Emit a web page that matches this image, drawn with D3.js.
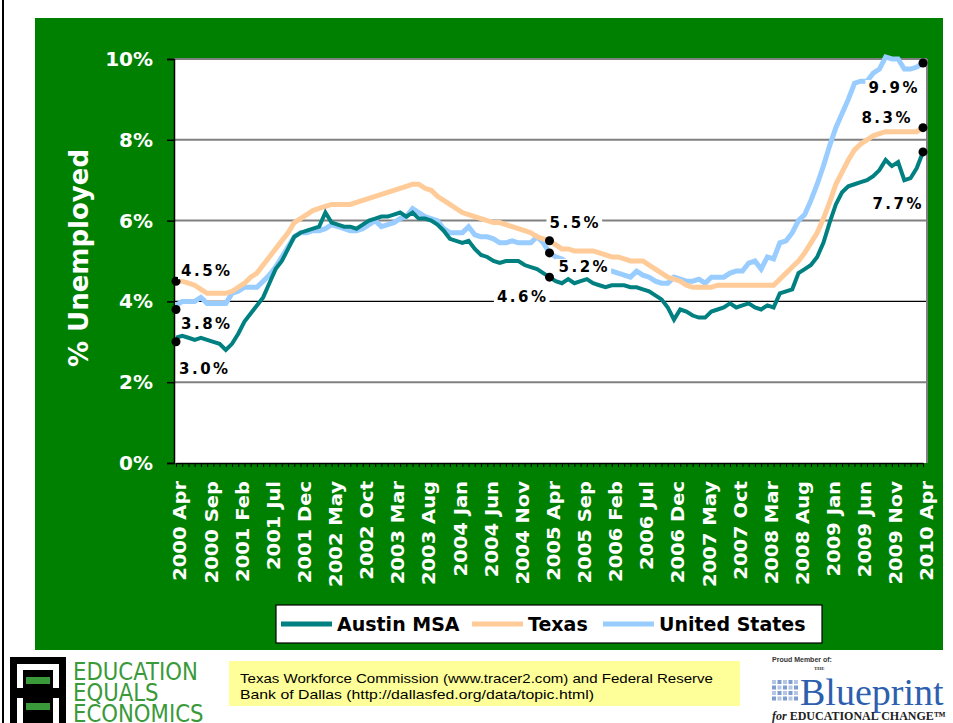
<!DOCTYPE html>
<html>
<head>
<meta charset="utf-8">
<script src="https://cdn.jsdelivr.net/npm/d3@7"></script>
<style>
  body { margin: 0; background: #fff; }
  svg { display: block; }
</style>
</head>
<body>
<svg id="chart" width="953" height="723"></svg>
<script>
// series names and colours
const seriesNames = ["Austin MSA", "Texas", "United States"];
const seriesColors = ["#008080", "#FFCC99", "#99CCFF"];

// monthly unemployment rate, 2000 Apr .. 2010 Apr (121 months)
const austin = [
    3.1, 3.15, 3.1, 3.05, 3.1, 3.05, 3.0, 2.95, 2.8, 2.95,
    3.2, 3.5, 3.7, 3.9, 4.1, 4.45, 4.8, 5.0, 5.3, 5.6,
    5.7, 5.75, 5.8, 5.85, 6.2, 5.95, 5.9, 5.85, 5.85, 5.8,
    5.9, 6.0, 6.05, 6.1, 6.1, 6.15, 6.2, 6.1, 6.2, 6.05,
    6.05, 6.0, 5.9, 5.75, 5.55, 5.5, 5.45, 5.5, 5.3, 5.15,
    5.1, 5.0, 4.95, 5.0, 5.0, 5.0, 4.9, 4.85, 4.8, 4.7,
    4.6, 4.5, 4.45, 4.55, 4.45, 4.5, 4.55, 4.45, 4.4, 4.35,
    4.4, 4.4, 4.4, 4.35, 4.35, 4.3, 4.25, 4.15, 4.05, 3.85,
    3.55, 3.8, 3.75, 3.65, 3.6, 3.6, 3.75, 3.8, 3.85, 3.95,
    3.85, 3.9, 3.95, 3.85, 3.8, 3.9, 3.85, 4.2, 4.25, 4.3,
    4.7, 4.8, 4.9, 5.1, 5.45, 5.95, 6.4, 6.7, 6.85, 6.9,
    6.95, 7.0, 7.1, 7.25, 7.5, 7.35, 7.45, 7.0, 7.05, 7.3,
    7.7
];
const texas = [
    4.5, 4.5, 4.45, 4.4, 4.3, 4.2, 4.2, 4.2, 4.2, 4.25,
    4.35, 4.45, 4.6, 4.7, 4.9, 5.1, 5.3, 5.5, 5.7, 5.95,
    6.05, 6.15, 6.25, 6.3, 6.35, 6.4, 6.4, 6.4, 6.4, 6.45,
    6.5, 6.55, 6.6, 6.65, 6.7, 6.75, 6.8, 6.85, 6.9, 6.9,
    6.8, 6.75, 6.6, 6.5, 6.4, 6.3, 6.2, 6.15, 6.1, 6.05,
    6.0, 5.95, 5.95, 5.9, 5.85, 5.8, 5.75, 5.7, 5.6, 5.55,
    5.5, 5.4, 5.3, 5.3, 5.25, 5.25, 5.25, 5.25, 5.2, 5.15,
    5.1, 5.1, 5.05, 5.0, 5.0, 5.0, 4.9, 4.8, 4.7, 4.6,
    4.55, 4.5, 4.4, 4.35, 4.35, 4.35, 4.35, 4.4, 4.4, 4.4,
    4.4, 4.4, 4.4, 4.4, 4.4, 4.4, 4.4, 4.55, 4.7, 4.85,
    5.0, 5.2, 5.45, 5.7, 6.05, 6.45, 6.9, 7.2, 7.5, 7.75,
    7.9, 8.0, 8.1, 8.15, 8.2, 8.2, 8.2, 8.2, 8.2, 8.2,
    8.3
];
const unitedStates = [
    3.9, 4.0, 4.0, 4.0, 4.1, 3.95, 3.95, 3.95, 3.95, 4.2,
    4.25, 4.35, 4.35, 4.35, 4.5, 4.65, 4.85, 5.1, 5.35, 5.6,
    5.7, 5.7, 5.75, 5.75, 5.8, 5.9, 5.85, 5.8, 5.75, 5.75,
    5.8, 5.9, 6.0, 5.85, 5.9, 5.95, 6.05, 6.1, 6.3, 6.2,
    6.1, 6.05, 6.0, 5.8, 5.7, 5.7, 5.7, 5.85, 5.65, 5.6,
    5.6, 5.55, 5.45, 5.45, 5.5, 5.45, 5.45, 5.45, 5.6, 5.45,
    5.2, 5.1, 5.05, 4.95, 4.9, 4.85, 4.8, 4.75, 4.75, 4.75,
    4.75, 4.7, 4.65, 4.6, 4.75, 4.65, 4.6, 4.5, 4.45, 4.45,
    4.6, 4.55, 4.5, 4.5, 4.55, 4.45, 4.6, 4.6, 4.6, 4.7,
    4.75, 4.75, 4.95, 5.0, 4.8, 5.1, 5.05, 5.45, 5.5, 5.7,
    6.0, 6.15, 6.5, 6.9, 7.35, 7.85, 8.3, 8.65, 9.0, 9.4,
    9.45, 9.45, 9.65, 9.75, 10.05, 10.0, 10.0, 9.75, 9.75, 9.8,
    9.9
];

// x tick labels (every 5th month) and y ticks
const tickLabels = ["2000 Apr", "2000 Sep", "2001 Feb", "2001 Jul", "2001 Dec", "2002 May",
    "2002 Oct", "2003 Mar", "2003 Aug", "2004 Jan", "2004 Jun", "2004 Nov", "2005 Apr",
    "2005 Sep", "2006 Feb", "2006 Jul", "2006 Dec", "2007 May", "2007 Oct", "2008 Mar",
    "2008 Aug", "2009 Jan", "2009 Jun", "2009 Nov", "2010 Apr"];
const yTicks = [0, 2, 4, 6, 8, 10];

// highlighted points: month label, value
const calloutMonths = ["2000 Apr", "2000 Apr", "2000 Apr", "2005 Apr", "2005 Apr", "2005 Apr", "2010 Apr", "2010 Apr", "2010 Apr"];
const calloutValues = [4.5, 3.8, 3.0, 5.5, 5.2, 4.6, 9.9, 8.3, 7.7];

const months = d3.timeMonth.range(new Date(2000, 3, 1), new Date(2010, 4, 1)).map(d3.timeFormat("%Y %b"));
const allSeries = [austin, texas, unitedStates];

const boldFont = "Verdana, 'DejaVu Sans', sans-serif";
const svg = d3.select("#chart");

// frame and green panel
svg.append("rect").attr("x", 2).attr("y", 0).attr("width", 2).attr("height", 723).attr("fill", "#000");
svg.append("rect").attr("x", 35).attr("y", 18).attr("width", 908).attr("height", 632).attr("fill", "#008000");

const plot = { left: 174, right: 927, top: 59, bottom: 463 };

svg.append("rect")
    .attr("x", plot.left).attr("y", plot.top - 1)
    .attr("width", plot.right - plot.left).attr("height", plot.bottom - plot.top + 1)
    .attr("fill", "#fff");

const x = d3.scalePoint().domain(months).range([176, 923]);
const y = d3.scaleLinear().domain([0, 10]).range([plot.bottom, plot.top]);

// gridlines
svg.append("g").selectAll("line")
    .data(yTicks.filter(d => d > 0))
    .enter().append("line")
    .attr("x1", plot.left).attr("x2", plot.right)
    .attr("y1", d => y(d)).attr("y2", d => y(d))
    .attr("stroke", d => d === 4 ? "#000" : "#808080")
    .attr("stroke-width", d => d === 4 ? 1.3 : 2);

// right border
svg.append("line")
    .attr("x1", plot.right).attr("x2", plot.right)
    .attr("y1", plot.top).attr("y2", plot.bottom)
    .attr("stroke", "#808080").attr("stroke-width", 2);

// y axis
const yAxis = svg.append("g")
    .attr("transform", `translate(${plot.left},0)`)
    .call(d3.axisLeft(y).tickValues(yTicks).tickSize(7).tickPadding(14).tickFormat(d => d + "%"));
yAxis.select(".domain").attr("stroke", "#000").attr("stroke-width", 1.5);
yAxis.selectAll(".tick line").attr("stroke", "#000").attr("stroke-width", 1.5);
yAxis.selectAll("text")
    .style("font-family", boldFont).style("font-weight", "bold")
    .style("font-size", "20px").attr("fill", "#fff");

// x axis: minor tick every month, label every 5th
const xAxis = svg.append("g")
    .attr("transform", `translate(0,${plot.bottom})`)
    .call(d3.axisBottom(x).tickValues(months).tickSize(4).tickSizeOuter(0)
        .tickFormat(d => tickLabels.includes(d) ? d : ""));
xAxis.select(".domain").attr("stroke", "#000").attr("stroke-width", 1.5);
xAxis.selectAll(".tick line").attr("stroke", "#000").attr("stroke-width", 1);
xAxis.selectAll("text")
    .attr("transform", "rotate(-90) scale(1.15,1)")
    .attr("text-anchor", "end")
    .attr("x", -18 / 1.15)
    .attr("y", 4)
    .attr("dy", "0.35em")
    .style("font-family", boldFont).style("font-weight", "bold")
    .style("font-size", "17px").attr("fill", "#fff");

// y axis title
svg.append("text")
    .attr("transform", "translate(88,258) rotate(-90)")
    .attr("text-anchor", "middle")
    .style("font-family", boldFont).style("font-weight", "bold")
    .style("font-size", "26px").attr("fill", "#fff")
    .text("% Unemployed");

// lines
const line = d3.line()
    .x((d, i) => x(months[i]))
    .y(d => y(d));

[2, 1, 0].forEach(s => {
    svg.append("path")
        .datum(allSeries[s])
        .attr("d", line)
        .attr("fill", "none")
        .attr("stroke", seriesColors[s])
        .attr("stroke-width", s === 0 ? 4 : 5)
        .attr("stroke-linejoin", "miter");
});

// callout dots and labels
const labelOffsets = [
    { dx: 5, dy: -5, anchor: "start" },
    { dx: 5, dy: 20, anchor: "start" },
    { dx: 3, dy: 32, anchor: "start" },
    { dx: 0, dy: -13, anchor: "start" },
    { dx: 9, dy: 19, anchor: "start" },
    { dx: -1, dy: 25, anchor: "end" },
    { dx: -3, dy: 30, anchor: "end" },
    { dx: -10, dy: -5, anchor: "end" },
    { dx: 1, dy: 57, anchor: "end" }
];

const callouts = calloutValues.map((v, i) => ({ month: calloutMonths[i], value: v, off: labelOffsets[i] }));

svg.append("g").selectAll("circle")
    .data(callouts)
    .enter().append("circle")
    .attr("cx", d => x(d.month))
    .attr("cy", d => y(d.value))
    .attr("r", 4.5)
    .attr("fill", "#000");

const labels = svg.append("g").selectAll("g")
    .data(callouts)
    .enter().append("g");

labels.append("text")
    .attr("x", d => x(d.month) + d.off.dx)
    .attr("y", d => y(d.value) + d.off.dy)
    .attr("text-anchor", d => d.off.anchor)
    .style("font-family", boldFont).style("font-weight", "bold")
    .style("font-size", "15px").style("letter-spacing", "2.5px")
    .attr("fill", "#000")
    .text(d => d.value.toFixed(1) + "%");

// white backgrounds behind labels
labels.each(function() {
    const g = d3.select(this);
    const bb = g.select("text").node().getBBox();
    g.insert("rect", "text")
        .attr("x", bb.x - 3).attr("y", bb.y + 1)
        .attr("width", bb.width + 4).attr("height", bb.height - 2)
        .attr("fill", "#fff");
});

// legend
const legend = svg.append("g");
legend.append("rect")
    .attr("x", 276).attr("y", 605).attr("width", 546).attr("height", 38)
    .attr("fill", "#fff").attr("stroke", "#000").attr("stroke-width", 1.2);

const legendX = [281, 472, 603];
seriesNames.forEach((name, i) => {
    legend.append("line")
        .attr("x1", legendX[i]).attr("x2", legendX[i] + 51)
        .attr("y1", 624).attr("y2", 624)
        .attr("stroke", seriesColors[i]).attr("stroke-width", 5);
    legend.append("text")
        .attr("x", legendX[i] + 56).attr("y", 631)
        .style("font-family", boldFont).style("font-weight", "bold")
        .style("font-size", "19px").attr("fill", "#000")
        .text(name);
});

// Education Equals Economics logo
const logo = svg.append("g");
logo.append("rect").attr("x", 10).attr("y", 657).attr("width", 56).attr("height", 66).attr("fill", "#000");
logo.append("rect").attr("x", 17).attr("y", 664).attr("width", 42).attr("height", 59).attr("fill", "#fff");
logo.append("rect").attr("x", 23).attr("y", 670).attr("width", 30).attr("height", 53).attr("fill", "#000");
logo.append("rect").attr("x", 17).attr("y", 688).attr("width", 6).attr("height", 10).attr("fill", "#000");
logo.append("rect").attr("x", 53).attr("y", 688).attr("width", 6).attr("height", 10).attr("fill", "#000");
[677, 703].forEach(yy => {
    logo.append("rect").attr("x", 26).attr("y", yy).attr("width", 24).attr("height", 7).attr("fill", "#3a9a3a");
});
["EDUCATION", "EQUALS", "ECONOMICS"].forEach((t, i) => {
    logo.append("text")
        .attr("transform", `translate(73,${680 + i * 21}) scale(0.85,1)`)
        .style("font-family", "'DejaVu Sans', sans-serif")
        .style("font-size", "25px").attr("fill", "#3a9a3a")
        .text(t);
});

// source note
svg.append("rect").attr("x", 229).attr("y", 661).attr("width", 511).attr("height", 45).attr("fill", "#FFFF99");
const sourceLines = ["Texas Workforce Commission (www.tracer2.com) and Federal Reserve",
    "Bank of Dallas (http://dallasfed.org/data/topic.html)"];
const sourceWidths = [473, 354];
sourceLines.forEach((t, i) => {
    svg.append("text")
        .attr("x", 240).attr("y", 683 + i * 16)
        .attr("textLength", sourceWidths[i]).attr("lengthAdjust", "spacingAndGlyphs")
        .style("font-family", "'Liberation Sans', Arial, sans-serif")
        .style("font-size", "13.5px").attr("fill", "#000")
        .text(t);
});

// Blueprint logo
const bp = svg.append("g");
bp.append("text").attr("x", 772).attr("y", 662)
    .style("font-family", "'Liberation Sans', Arial, sans-serif").style("font-weight", "bold")
    .style("font-size", "7px").attr("fill", "#333").text("Proud Member of:");
bp.append("text").attr("x", 814).attr("y", 670)
    .style("font-family", "'Liberation Serif', serif").style("font-weight", "bold")
    .style("font-size", "5px").attr("fill", "#333").text("THE");
for (let r = 0; r < 4; r++) {
    for (let c = 0; c < 5; c++) {
        bp.append("rect")
            .attr("x", 772 + c * 5.5).attr("y", 680 + r * 5.5)
            .attr("width", 4).attr("height", 4)
            .attr("fill", (r + c) % 2 ? "#7d9ccf" : "#b4c6e4");
    }
}
bp.append("text").attr("x", 800).attr("y", 705)
    .style("font-family", "'Liberation Serif', 'DejaVu Serif', serif")
    .style("font-size", "38px").attr("fill", "#2d5fae").text("Blueprint");
bp.append("text").attr("x", 772).attr("y", 720)
    .style("font-family", "'Liberation Serif', serif").style("font-weight", "bold")
    .style("font-size", "12px").attr("fill", "#222")
    .html("<tspan font-style='italic'>for</tspan> EDUCATIONAL CHANGE™");
</script>
</body>
</html>
